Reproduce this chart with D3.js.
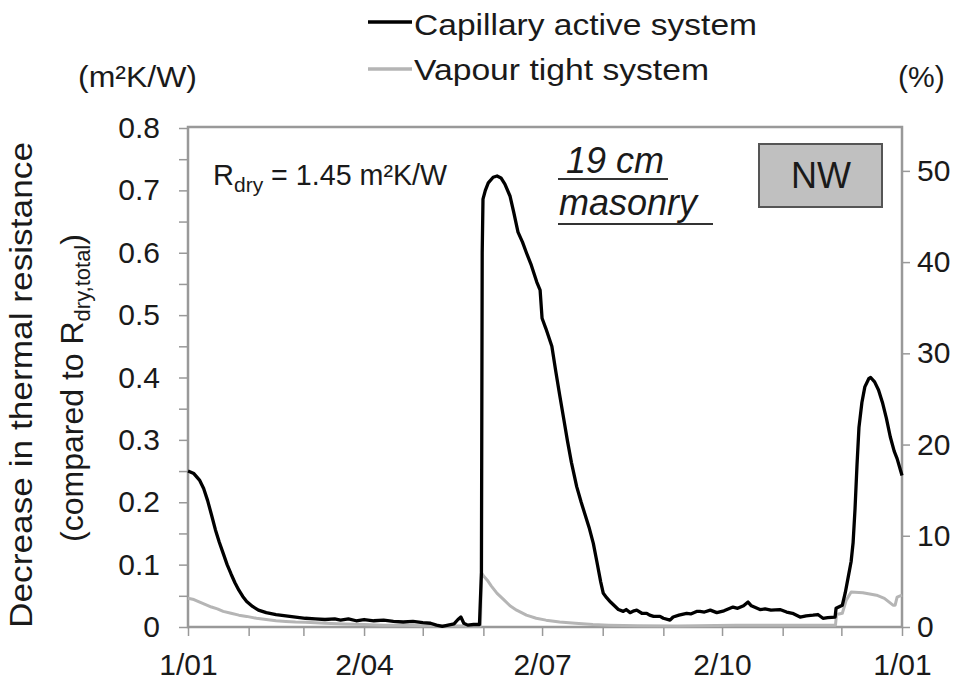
<!DOCTYPE html>
<html>
<head>
<meta charset="utf-8">
<script src="https://cdn.jsdelivr.net/npm/d3@7"></script>
<style>
  html, body { margin: 0; padding: 0; background: #fff; }
  svg { display: block; font-family: "Liberation Sans", Arial, Helvetica, sans-serif; }
</style>
</head>
<body>
<svg id="chart" width="969" height="683"></svg>
<script>
// ---- Data (day of year, decrease in thermal resistance in m²K/W) ----
const capDays = [0,3,6,8,10,12,14,16,18,20,22,24,26,28,30,33,36,40,45,50,55,60,65,70,75,78,82,86,90,95,100,105,110,115,120,124,127,130,133,136,138,139.5,141,143,146,149,150,150.4,150.8,
  152,153.5,156,158,160,162,164.6,166.5,168.7,171,173,175.5,178.3,180,181,183,186,188,190,192,194,196,198.7,201,203,205,207.2,209,211,212.3,214,216,218,220,222.5,224,226,228,229.4,232,234.5,236,238,241.3,243,246.4,248,251,254.9,257,260,261.7,264,267,270.3,274,278.6,281,284,286.3,288,292.4,295,298,302.6,306,309,312.9,316,319.5,322,324.6,327,330.8,331.3,334.5,336,337.5,339,340,341,342,343,344.5,346,348,349,351,353,355,357,359,361,362.5,365];
const capValues = [0.250,0.246,0.235,0.222,0.203,0.180,0.156,0.136,0.118,0.100,0.085,0.071,0.059,0.049,0.041,0.033,0.027,0.023,0.020,0.018,0.016,0.014,0.013,0.012,0.013,0.011,0.013,0.010,0.012,0.010,0.011,0.009,0.008,0.009,0.007,0.006,0.003,0.001,0.003,0.005,0.012,0.016,0.006,0.003,0.004,0.004,0.087,0.600,0.686,
  0.700,0.712,0.721,0.723,0.720,0.710,0.691,0.665,0.633,0.617,0.600,0.580,0.553,0.540,0.495,0.478,0.450,0.410,0.372,0.335,0.298,0.264,0.225,0.200,0.180,0.160,0.134,0.105,0.072,0.054,0.047,0.040,0.034,0.028,0.025,0.028,0.023,0.026,0.027,0.022,0.022,0.019,0.017,0.017,0.014,0.011,0.016,0.019,0.022,0.021,0.025,0.025,0.024,0.027,0.023,0.026,0.032,0.030,0.034,0.040,0.034,0.028,0.029,0.027,0.028,0.024,0.022,0.016,0.018,0.019,0.020,0.014,0.015,0.016,0.030,0.035,0.055,0.080,0.105,0.135,0.190,0.260,0.320,0.360,0.385,0.398,0.400,0.393,0.380,0.360,0.335,0.305,0.282,0.270,0.243];

const vapDays = [0,3,6,9,12,15,18,22,26,30,35,40,45,50,55,60,70,80,90,100,110,120,130,140,149.5,150,151,153,155,158,161,164.6,168,173,178,183,190,198,207,215,230,250,280,300,331,331.5,334.5,336.5,339,345,352,356,360.4,361.5,362.5,365];
const vapValues = [0.046,0.044,0.040,0.036,0.032,0.029,0.025,0.022,0.019,0.017,0.014,0.012,0.010,0.009,0.008,0.0075,0.006,0.005,0.004,0.003,0.003,0.002,0.002,0.0015,0.0015,0.087,0.082,0.075,0.066,0.054,0.045,0.034,0.027,0.019,0.014,0.011,0.008,0.006,0.004,0.003,0.002,0.0015,0.003,0.003,0.003,0.020,0.022,0.043,0.056,0.055,0.051,0.046,0.035,0.035,0.048,0.051];

const monthTickDays = [0,31,59,90,120,151,181,212,243,273,304,334,365];
const xLabelDays = [0,90,181,273,365];
const xLabels = ["1/01","2/04","2/07","2/10","1/01"];
const leftTicks = [0,0.05,0.1,0.15,0.2,0.25,0.3,0.35,0.4,0.45,0.5,0.55,0.6,0.65,0.7,0.75,0.8];
const rightTicks = [0,10,20,30,40,50];
const seriesNames = ["Capillary active system","Vapour tight system"];
const seriesColors = ["#000000","#b5b5b5"];

// ---- Layout ----
const svg = d3.select("#chart");
const L = 188, R = 902, T = 127, B = 627;
const x = d3.scaleLinear().domain([0,365]).range([L,R]);
const y = d3.scaleLinear().domain([0,0.8]).range([B,128]);
const yR = d3.scaleLinear().domain([0,54.7]).range([B,128]);
const textColor = "#1a1a1a";
const axisColor = "#999";

// Axes
const fmtLeft = d => {
  const r = Math.round(d*100);
  if (r % 10 !== 0) return "";
  return r === 0 ? "0" : (r/100).toFixed(1);
};
const gL = svg.append("g").attr("transform",`translate(${L},0)`)
  .call(d3.axisLeft(y).tickValues(leftTicks).tickSize(9).tickPadding(19).tickFormat(fmtLeft));
const gR = svg.append("g").attr("transform",`translate(${R},0)`)
  .call(d3.axisRight(yR).tickValues(rightTicks).tickSize(8).tickPadding(7).tickFormat(d3.format("d")));
const gB = svg.append("g").attr("transform",`translate(0,${B})`)
  .call(d3.axisBottom(x).tickValues(monthTickDays).tickSize(9).tickPadding(18)
    .tickFormat(d => { const i = xLabelDays.indexOf(d); return i >= 0 ? xLabels[i] : ""; }));
[gL,gR,gB].forEach(g => {
  g.select(".domain").remove();
  g.selectAll(".tick line").attr("stroke",axisColor).attr("stroke-width",1.5);
  g.selectAll(".tick text").attr("fill",textColor).style("font-size","30px")
    .style("font-family","'Liberation Sans', Arial, sans-serif");
});

// Frame
svg.append("rect").attr("x",L).attr("y",T).attr("width",R-L).attr("height",B-T)
  .attr("fill","none").attr("stroke",axisColor).attr("stroke-width",2.5);

// Lines
const capData = capDays.map((d,i) => [d, capValues[i]]);
const vapData = vapDays.map((d,i) => [d, vapValues[i]]);
const line = d3.line().x(d => x(d[0])).y(d => y(d[1]));
svg.append("path").datum(vapData).attr("d",line).attr("fill","none")
  .attr("stroke",seriesColors[1]).attr("stroke-width",3).attr("stroke-linejoin","round");
svg.append("path").datum(capData).attr("d",line).attr("fill","none")
  .attr("stroke",seriesColors[0]).attr("stroke-width",3.3).attr("stroke-linejoin","round");

// Legend
const legY = [22, 69], legText = [35, 80], legLen = [343, 295];
seriesNames.forEach((n,i) => {
  svg.append("line").attr("x1",368).attr("x2",412).attr("y1",legY[i]).attr("y2",legY[i])
    .attr("stroke",seriesColors[i]).attr("stroke-width",3.5);
  svg.append("text").attr("x",414).attr("y",legText[i]).attr("fill",textColor)
    .style("font-size","30px").attr("textLength",legLen[i]).attr("lengthAdjust","spacingAndGlyphs").text(n);
});

// Units
svg.append("text").attr("x",78).attr("y",87).attr("fill",textColor).style("font-size","30px")
  .attr("textLength",119).attr("lengthAdjust","spacingAndGlyphs").text("(m²K/W)");
svg.append("text").attr("x",898).attr("y",87).attr("fill",textColor).style("font-size","30px").text("(%)");

// Y title
svg.append("text").attr("transform","translate(32,385) rotate(-90)").attr("text-anchor","middle")
  .attr("fill",textColor).style("font-size","31px").attr("textLength",486).attr("lengthAdjust","spacingAndGlyphs")
  .text("Decrease in thermal resistance");
const t2 = svg.append("text").attr("transform","translate(83,388) rotate(-90)").attr("text-anchor","middle")
  .attr("fill",textColor).style("font-size","32px");
t2.append("tspan").text("(compared to R");
t2.append("tspan").attr("dy",7).style("font-size","22px").text("dry,total");
t2.append("tspan").attr("dy",-7).text(")");

// R_dry annotation
const rd = svg.append("text").attr("x",213).attr("y",185).attr("fill",textColor).style("font-size","29px");
rd.append("tspan").text("R");
rd.append("tspan").attr("dy",7).style("font-size","21px").text("dry");
rd.append("tspan").attr("dy",-7).attr("textLength",184).attr("lengthAdjust","spacingAndGlyphs").text(" = 1.45 m²K/W");

// 19 cm masonry
svg.append("text").attr("x",566).attr("y",173).attr("fill",textColor).style("font-size","36px")
  .style("font-style","italic").text("19 cm");
svg.append("line").attr("x1",558).attr("x2",668).attr("y1",179).attr("y2",179).attr("stroke","#333").attr("stroke-width",2);
svg.append("text").attr("x",559).attr("y",215).attr("fill",textColor).style("font-size","36px")
  .style("font-style","italic").text("masonry");
svg.append("line").attr("x1",558).attr("x2",713).attr("y1",224).attr("y2",224).attr("stroke","#333").attr("stroke-width",2);

// NW box
svg.append("rect").attr("x",759).attr("y",144).attr("width",123).attr("height",63)
  .attr("fill","#c0c0c0").attr("stroke","#555").attr("stroke-width",2);
svg.append("text").attr("x",821).attr("y",188).attr("text-anchor","middle").attr("fill",textColor)
  .style("font-size","36px").text("NW");
</script>
</body>
</html>
